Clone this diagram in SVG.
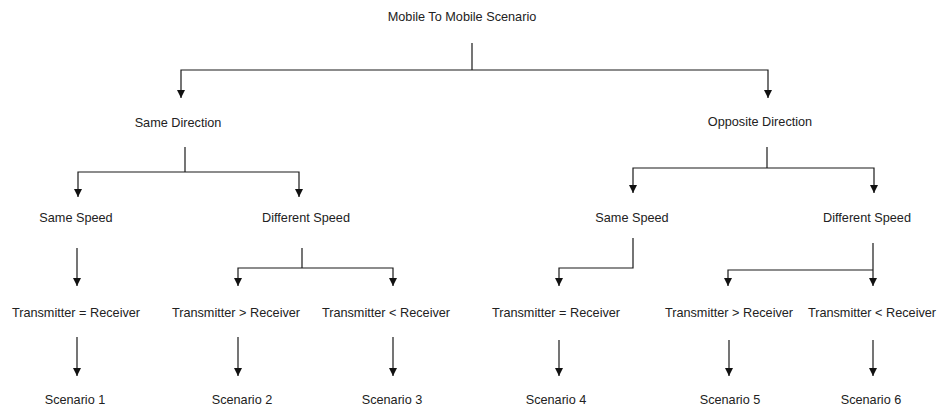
<svg xmlns="http://www.w3.org/2000/svg" width="939" height="410" viewBox="0 0 939 410">
  <style>
    .lbl { font-family: "Liberation Sans", Arial, sans-serif; font-size: 12.7px; fill: #222; text-anchor: middle; }
    .wire { fill: none; stroke: #1a1a1a; stroke-width: 1.2; }
  </style>
  <defs>
    <marker id="arrow" viewBox="0 0 8 10" refX="8" refY="5" markerWidth="8" markerHeight="10" markerUnits="userSpaceOnUse" orient="auto">
      <path d="M0,1 L8,5 L0,9 Z" fill="#111"/>
    </marker>
  </defs>
  <rect width="939" height="410" fill="#ffffff"/>

  <g id="connectors">
    <!-- root split -->
    <path class="wire" d="M472,43 V70"/>
    <path class="wire" d="M472,70 H181 V98" marker-end="url(#arrow)"/>
    <path class="wire" d="M472,70 H768 V98" marker-end="url(#arrow)"/>
    <!-- same direction split -->
    <path class="wire" d="M185,147 V172"/>
    <path class="wire" d="M185,172 H78 V197" marker-end="url(#arrow)"/>
    <path class="wire" d="M185,172 H299 V197" marker-end="url(#arrow)"/>
    <!-- same direction / same speed -->
    <path class="wire" d="M77,248 V286" marker-end="url(#arrow)"/>
    <!-- same direction / different speed -->
    <path class="wire" d="M302,248 V268"/>
    <path class="wire" d="M302,268 H238 V286" marker-end="url(#arrow)"/>
    <path class="wire" d="M302,268 H393 V286" marker-end="url(#arrow)"/>
    <!-- to scenarios 1-3 -->
    <path class="wire" d="M77,337 V376" marker-end="url(#arrow)"/>
    <path class="wire" d="M238,337 V376" marker-end="url(#arrow)"/>
    <path class="wire" d="M393,337 V376" marker-end="url(#arrow)"/>
    <!-- opposite direction split -->
    <path class="wire" d="M767,147 V168"/>
    <path class="wire" d="M767,168 H633 V193" marker-end="url(#arrow)"/>
    <path class="wire" d="M767,168 H874 V193" marker-end="url(#arrow)"/>
    <!-- opposite direction / same speed -->
    <path class="wire" d="M633,238 V268 H559 V286" marker-end="url(#arrow)"/>
    <!-- opposite direction / different speed -->
    <path class="wire" d="M873,243 V286" marker-end="url(#arrow)"/>
    <path class="wire" d="M873,270 H728 V286" marker-end="url(#arrow)"/>
    <!-- to scenarios 4-6 -->
    <path class="wire" d="M559,340 V376" marker-end="url(#arrow)"/>
    <path class="wire" d="M729,340 V376" marker-end="url(#arrow)"/>
    <path class="wire" d="M873,340 V376" marker-end="url(#arrow)"/>
  </g>

  <g id="root"><text class="lbl" x="462" y="21">Mobile To Mobile Scenario</text></g>

  <g id="same-direction"><text class="lbl" x="178" y="127">Same Direction</text></g>
  <g id="opposite-direction"><text class="lbl" x="760" y="126">Opposite Direction</text></g>

  <g id="sd-same-speed"><text class="lbl" x="76" y="222">Same Speed</text></g>
  <g id="sd-different-speed"><text class="lbl" x="306" y="222">Different Speed</text></g>
  <g id="od-same-speed"><text class="lbl" x="632" y="222">Same Speed</text></g>
  <g id="od-different-speed"><text class="lbl" x="867" y="222">Different Speed</text></g>

  <g id="sd-tx-eq-rx"><text class="lbl" x="76" y="317">Transmitter = Receiver</text></g>
  <g id="sd-tx-gt-rx"><text class="lbl" x="236" y="317">Transmitter &gt; Receiver</text></g>
  <g id="sd-tx-lt-rx"><text class="lbl" x="386" y="317">Transmitter &lt; Receiver</text></g>
  <g id="od-tx-eq-rx"><text class="lbl" x="556" y="317">Transmitter = Receiver</text></g>
  <g id="od-tx-gt-rx"><text class="lbl" x="729" y="317">Transmitter &gt; Receiver</text></g>
  <g id="od-tx-lt-rx"><text class="lbl" x="872" y="317">Transmitter &lt; Receiver</text></g>

  <g id="scenario-1"><text class="lbl" x="75" y="404">Scenario 1</text></g>
  <g id="scenario-2"><text class="lbl" x="242" y="404">Scenario 2</text></g>
  <g id="scenario-3"><text class="lbl" x="392" y="404">Scenario 3</text></g>
  <g id="scenario-4"><text class="lbl" x="556" y="404">Scenario 4</text></g>
  <g id="scenario-5"><text class="lbl" x="730" y="404">Scenario 5</text></g>
  <g id="scenario-6"><text class="lbl" x="871" y="404">Scenario 6</text></g>
</svg>
